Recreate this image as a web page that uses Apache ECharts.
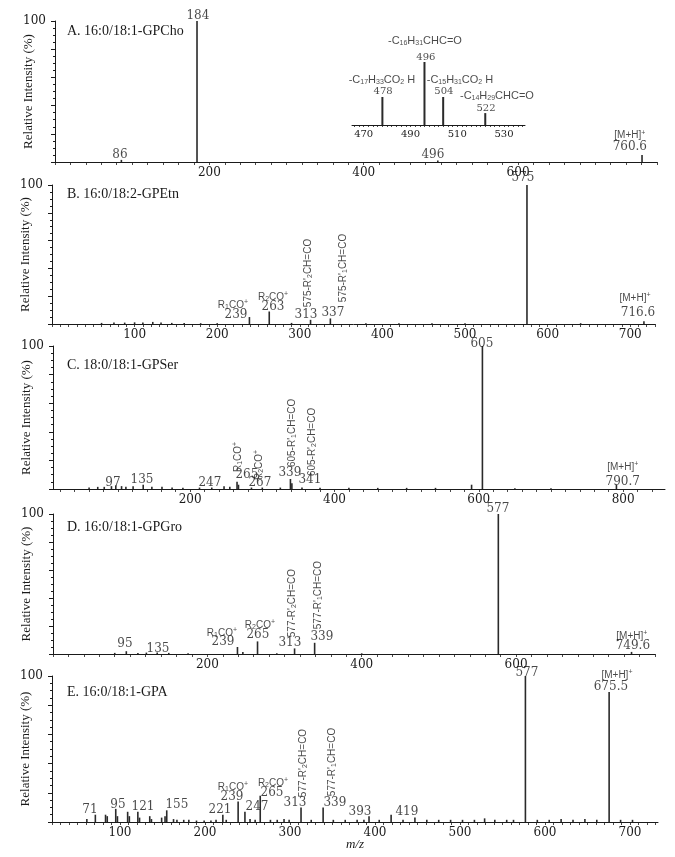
<!DOCTYPE html>
<html><head><meta charset="utf-8">
<script src="https://cdn.jsdelivr.net/npm/echarts@6/dist/echarts.min.js"></script>
<style>html,body{margin:0;padding:0;background:#fff}#c{width:675px;height:857px}</style>
</head><body><div id="c"></div>
<script>
// ---------------- DATA ----------------
const titles = ['A. 16:0/18:1-GPCho','B. 16:0/18:2-GPEtn','C. 18:0/18:1-GPSer','D. 16:0/18:1-GPGro','E. 16:0/18:1-GPA'];

// [m/z, relative intensity %]
const A_peaks = [[86,1.5],[184,100],[496,1],[760.6,5]];
const A_inset_peaks = [[478,40],[496,90],[504,40],[522,17]];
const B_peaks = [[60,0.8],[75,1],[88,1],[100,1.2],[110,1],[122,1.5],[132,1],[145,0.8],[160,0.8],[180,0.6],[200,0.6],[239,5],[263,9],[290,0.8],[313,3],[337,4],[380,0.6],[420,0.6],[460,0.6],[500,0.6],[575,100],[640,0.6],[716.6,2]];
const C_peaks = [[60,1],[72,1.5],[81,1.5],[91,2],[97,2.5],[105,2],[111,1.5],[121,2],[135,3],[147,1.5],[161,1.5],[175,1],[190,0.8],[213,1],[230,1],[247,2],[255,1.5],[265,5],[267,3],[285,1],[300,1],[325,1],[339,7],[341,4],[355,1],[380,0.8],[420,0.8],[460,0.8],[500,0.8],[540,0.8],[590,3],[605,100],[650,0.6],[700,0.6],[790.7,3]];
const D_peaks = [[80,0.8],[95,2],[110,0.8],[121,1],[135,1],[150,0.8],[175,0.6],[239,5],[246,1.5],[265,9],[290,0.6],[313,4],[339,8],[400,0.5],[577,100],[749.6,1.5]];
const E_peaks = [[61,2],[71,5],[83,5],[85,4],[95,9],[97,4],[109,7],[111,4],[121,7],[123,3],[135,4],[137,2],[149,3],[153,4],[155,8],[163,2],[167,1.5],[175,1.5],[181,1.5],[190,1],[199,1],[207,1],[213,1.5],[221,5],[225,1.5],[239,14],[247,7],[253,2],[259,1.5],[265,18],[277,1.5],[285,1.5],[293,2],[299,1.5],[313,10],[325,1.5],[339,10],[351,1.5],[365,1.5],[379,1.5],[387,1.5],[393,4],[405,1.5],[419,5],[433,1.5],[447,3],[461,1.5],[475,1.5],[489,1.5],[503,1.5],[517,1.5],[529,2.5],[541,1.5],[555,1.5],[563,1.5],[577,100],[591,1.5],[605,1.5],[619,2],[633,1.5],[647,2],[661,1.5],[675.5,89],[689,1.5],[703,1.5]];

// tick labels
const A_xticks = [200,400,600];
const B_xticks = [100,200,300,400,500,600,700];
const C_xticks = [200,400,600,800];
const D_xticks = [200,400,600];
const E_xticks = [100,200,300,400,500,600,700];
const Inset_xticks = [470,490,510,530];
const y_ticks = [100];

// annotations: [m/z anchor, intensity anchor, text]
const A_num = [[185.2,103.5,'184'],[84.2,5,'86'],[489.6,5,'496'],[744.8,10.6,'760.6']];
const A_ion = [[744.8,19.1,'[M+H]{sup|+}']];
const Inset_num = [[478.3,48.6,'478'],[496.6,97,'496'],[504.3,48.6,'504'],[522.3,24.3,'522']];
const Inset_ion = [[477.8,64.3,'-C{sub|17}H{sub|33}CO{sub|2} H'],[496.2,120,'-C{sub|16}H{sub|31}CHC=O'],[511.2,64.3,'-C{sub|15}H{sub|31}CO{sub|2} H'],[527,41.4,'-C{sub|14}H{sub|29}CHC=O']];

const B_num = [[570.2,105,'575'],[222.8,6.5,'239'],[267.6,12.2,'263'],[307.5,6.5,'313'],[340,7.9,'337'],[709.4,7.9,'716.6']];
const B_ion = [[219,13.7,'R{sub|1}CO{sup|+}'],[267.6,19.4,'R{sub|2}CO{sup|+}'],[705.8,18.7,'[M+H]{sup|+}']];
const B_rot = [[309.9,36.7,"575-R'{sub|2}CH=CO"],[352.3,40.3,"575-R'{sub|1}CH=CO"]];

const C_num = [[604.2,101.4,'605'],[93.1,4.2,'97'],[133.3,6.3,'135'],[227.4,4.2,'247'],[278.7,9.8,'265'],[296.7,4.2,'267'],[338.3,11.2,'339'],[366,6.3,'341'],[799.5,4.9,'790.7']];
const C_ion = [[799.5,15.4,'[M+H]{sup|+}']];
const C_rot = [[266.2,22.4,'R{sub|1}CO{sup|+}'],[295.3,16.8,'R{sub|2}CO{sup|+}'],[341,39.2,"605-R'{sub|1}CH=CO"],[368.7,32.9,"605-R'{sub|2}CH=CO"]];

const D_num = [[576.4,103.6,'577'],[93.3,7.1,'95'],[136,3.6,'135'],[220.2,8.6,'239'],[265.5,13.6,'265'],[307,7.9,'313'],[348.4,12.1,'339'],[751.3,5.7,'749.6']];
const D_ion = [[218.9,15,'R{sub|1}CO{sup|+}'],[268.1,20.7,'R{sub|2}CO{sup|+}'],[750,12.9,'[M+H]{sup|+}']];
const D_rot = [[309.6,36.4,"577-R'{sub|2}CH=CO"],[343.3,42.1,"577-R'{sub|1}CH=CO"]];

const E_num = [[578.8,102,'577'],[677.6,92.5,'675.5'],[64.7,8.2,'71'],[97.6,11.6,'95'],[127,10.3,'121'],[167,11.6,'155'],[217.6,8.2,'221'],[231.8,17.1,'239'],[261.2,10.3,'247'],[278.8,19.9,'265'],[305.9,13,'313'],[352.9,13,'339'],[382.4,6.8,'393'],[437.6,6.8,'419']];
const E_ion = [[684.7,100.7,'[M+H]{sup|+}'],[232.9,24,'R{sub|1}CO{sup|+}'],[280,26.7,'R{sub|2}CO{sup|+}']];
const E_rot = [[315.3,40.4,"577-R'{sub|2}CH=CO"],[349.4,41.1,"577-R'{sub|1}CH=CO"]];

// ---------------- LAYOUT ----------------
const geom = [
  {left:55, width:602, top:21, height:141, min:0, max:780, step:20},
  {left:52, width:603, top:185, height:139, min:0, max:730, step:10},
  {left:53, width:612, top:346, height:143, min:10, max:858, step:20},
  {left:53, width:602, top:514, height:140, min:0, max:780, step:20},
  {left:52, width:606, top:676, height:146, min:20, max:733, step:10},
  {left:352, width:173, top:55, height:70, min:465, max:539, step:2}
];
const peaksList = [A_peaks,B_peaks,C_peaks,D_peaks,E_peaks,A_inset_peaks];
const xtickList = [A_xticks,B_xticks,C_xticks,D_xticks,E_xticks,Inset_xticks];
const numList = [A_num,B_num,C_num,D_num,E_num,Inset_num];
const ionList = [A_ion,B_ion,C_ion,D_ion,E_ion,Inset_ion];
const rotList = [[],B_rot,C_rot,D_rot,E_rot,[]];
const titleCenters = [32,195,366,528,693];

const INK = '#1a1a1a';
const NUMFONT = 'DejaVu Serif';
const SANS = 'Liberation Sans';
const rich = {
  sub:{fontFamily:SANS,fontSize:7,verticalAlign:'bottom',color:INK,lineHeight:12},
  sup:{fontFamily:SANS,fontSize:7,verticalAlign:'top',color:INK,lineHeight:12}
};
function minorValues(g){
  const out=[]; let v=Math.ceil(g.min/g.step)*g.step;
  for(; v<=g.max+1e-9; v+=g.step) out.push(+v.toFixed(3));
  return out;
}

const grid=[], xAxis=[], yAxis=[], series=[];
geom.forEach((g,i)=>{
  const inset = i===5;
  grid.push({left:g.left, top:g.top, width:g.width, height:g.height, containLabel:false, outerBoundsMode:'none'});
  xAxis.push({
    type:'value', gridIndex:i, min:g.min, max:g.max,
    splitLine:{show:false},
    axisLine:{show:true, onZero:false, lineStyle:{color:INK,width:1}},
    axisTick:{show:true, length:inset?2:3, customValues:minorValues(g), lineStyle:{color:INK,width:0.8}},
    axisLabel:{show:true, customValues:xtickList[i], margin:inset?4:5, fontFamily:NUMFONT, fontSize:inset?10:12, color:INK},
    name: i===4 ? 'm/z' : '',
    nameLocation:'middle', nameGap:16, nameMoveOverlap:false,
    nameTextStyle:{fontFamily:'Liberation Serif', fontStyle:'italic', fontSize:13, color:INK}
  });
  yAxis.push({
    type:'value', gridIndex:i, min:0, max:100, interval:20, show:!inset,
    splitLine:{show:false},
    axisLine:{show:true, lineStyle:{color:INK,width:1}},
    axisTick:{show:true, length:4, lineStyle:{color:INK}},
    minorTick:{show:true, splitNumber:4, length:2, lineStyle:{color:INK}},
    axisLabel:{show:true, margin:9, fontFamily:NUMFONT, fontSize:12, color:INK,
      formatter:v=> y_ticks.includes(v)? String(v):''},
    name:'Relative Intensity (%)', nameLocation:'middle', nameGap:20, nameMoveOverlap:false,
    nameTextStyle:{fontFamily:'Liberation Serif', fontSize:13, color:INK}
  });
  series.push({
    type:'bar', xAxisIndex:i, yAxisIndex:i, data:peaksList[i],
    barWidth: inset?2:1.6, itemStyle:{color:'#2a2a2a'}, silent:true, animation:false
  });
  const mk=(arr,style,rot)=>({
    type:'scatter', xAxisIndex:i, yAxisIndex:i, symbolSize:1, clip:false, silent:true, animation:false,
    itemStyle:{color:'rgba(0,0,0,0)'},
    data:arr.map(a=>({value:[a[0],a[1]], label:{formatter:a[2]}})),
    label:Object.assign({show:true, position:'inside', rotate:rot?90:0, color:INK, rich:rich}, style),
    z:5
  });
  if(numList[i].length) series.push(mk(numList[i], {fontFamily:NUMFONT, fontSize:inset?10:12}, false));
  if(ionList[i].length) series.push(mk(ionList[i], {fontFamily:SANS, fontSize:inset?11:10}, false));
  if(rotList[i].length) series.push(mk(rotList[i], {fontFamily:SANS, fontSize:10}, true));
});

const graphic = titles.map((t,k)=>({
  type:'text', left:67, top:titleCenters[k]-8,
  style:{text:t, font:'14px "Liberation Serif"', fill:INK}
}));

const chart = echarts.init(document.getElementById('c'));
chart.setOption({animation:false, backgroundColor:'#fff', grid, xAxis, yAxis, series, graphic});
</script></body></html>
